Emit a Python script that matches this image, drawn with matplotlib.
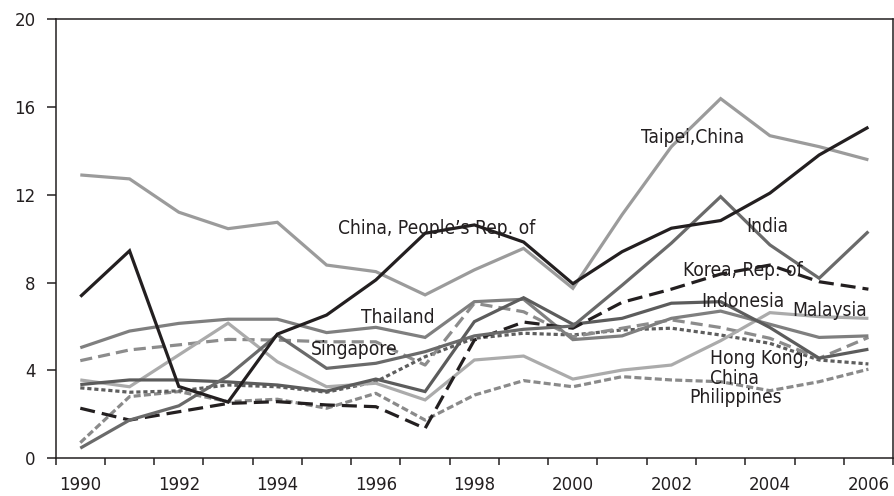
import matplotlib
matplotlib.use("Agg")
import matplotlib.pyplot as plt
from matplotlib import font_manager as fm

years = list(range(1990, 2007))
tick_years = [str(y) for y in range(1990, 2007, 2)]

china = [7.36, 9.45, 3.26, 2.55, 5.65, 6.52, 8.12, 10.25, 10.63, 9.85, 7.95, 9.41, 10.48, 10.83, 12.08, 13.82, 15.09]
taipei = [12.91, 12.73, 11.21, 10.46, 10.75, 8.8, 8.5, 7.44, 8.58, 9.56, 7.74, 11.1, 14.2, 16.39, 14.7, 14.2, 13.6]
india = [0.45, 1.73, 2.38, 3.75, 5.61, 4.09, 4.32, 4.85, 5.57, 5.87, 6.02, 7.88, 9.8, 11.92, 9.72, 8.2, 10.33]
korea = [2.27, 1.73, 2.11, 2.49, 2.57, 2.42, 2.34, 1.35, 5.38, 6.2, 5.92, 7.1, 7.7, 8.39, 8.8, 8.04, 7.7]
indonesia = [3.35, 3.56, 3.56, 3.47, 3.33, 3.05, 3.6, 3.03, 6.22, 7.31, 6.1, 6.37, 7.06, 7.13, 5.95, 4.55, 4.96]
malaysia = [3.56, 3.25, 4.7, 6.15, 4.39, 3.25, 3.41, 2.65, 4.47, 4.65, 3.6, 4.01, 4.24, 5.35, 6.63, 6.45, 6.37]
thailand = [5.03, 5.79, 6.14, 6.33, 6.33, 5.72, 5.96, 5.5, 7.13, 7.24, 5.4, 5.57, 6.37, 6.7, 6.1, 5.5, 5.57]
singapore = [4.44, 4.93, 5.16, 5.41, 5.38, 5.3, 5.3, 4.24, 7.06, 6.67, 5.53, 5.92, 6.3, 5.95, 5.46, 4.55, 5.5]
hongkong = [3.2, 3.0, 3.06, 3.33, 3.25, 3.0, 3.48, 4.62, 5.46, 5.69, 5.61, 5.84, 5.92, 5.61, 5.23, 4.47, 4.29]
philippines = [0.7, 2.8, 3.03, 2.57, 2.68, 2.27, 2.95, 1.73, 2.87, 3.53, 3.25, 3.71, 3.56, 3.48, 3.07, 3.48, 4.05]

# choose a condensed font if one exists
cond_path = None
for f in fm.fontManager.ttflist:
    n = f.fname.lower()
    if "dejavusanscondensed.ttf" in n:
        cond_path = f.fname
        break
if cond_path is None:
    for f in fm.fontManager.ttflist:
        n = f.fname.lower()
        if "narrow" in n and "bold" not in n and "italic" not in n:
            cond_path = f.fname
            break
if cond_path is not None:
    lab_fp = fm.FontProperties(fname=cond_path, size=13.8)
else:
    lab_fp = fm.FontProperties(family="DejaVu Sans", size=12.4)

fig = plt.figure(figsize=(8.95, 4.96), dpi=100)
ax = fig.add_axes([0.0622, 0.0766, 0.9356, 0.8841])

x = list(range(len(years)))
lw = 2.3
series = [
    (philippines, "#8a8a8a", (0, (2.2, 1.0))),
    (hongkong, "#5e5e5e", (0, (1.3, 0.9))),
    (singapore, "#8c8c8c", (0, (3.8, 1.9))),
    (malaysia, "#ababab", "-"),
    (thailand, "#7f7f7f", "-"),
    (indonesia, "#5c5c5c", "-"),
    (korea, "#231f20", (0, (4.7, 2.2))),
    (india, "#6a6a6a", "-"),
    (taipei, "#9b9b9b", "-"),
    (china, "#231f20", "-"),
]
for vals, col, ls in series:
    ax.plot(x, vals, color=col, lw=lw, linestyle=ls, solid_joinstyle="miter",
            dash_capstyle="butt", solid_capstyle="butt")

txtc = "#231f20"
def lab(xx, yy, s, ha="center"):
    ax.text(xx, yy, s, fontproperties=lab_fp, color=txtc, ha=ha, va="center")

lab(12.43, 14.64, "Taipei,China")
lab(13.94, 10.58, "India")
lab(13.46, 8.53, "Korea, Rep. of")
lab(7.24, 10.45, "China, People\u2019s Rep. of")
lab(13.46, 7.12, "Indonesia")
lab(15.22, 6.71, "Malaysia")
lab(6.44, 6.43, "Thailand")
lab(5.56, 4.97, "Singapore")
lab(12.78, 4.52, "Hong Kong,", ha="left")
lab(12.78, 3.62, "China", ha="left")
lab(13.3, 2.76, "Philippines")

ax.set_xlim(-0.5, len(years) - 0.5)
ax.set_ylim(0, 20)
ax.set_yticks([0, 4, 8, 12, 16, 20])
ax.set_xticks([i - 0.5 for i in range(len(years) + 1)])
ax.set_xticklabels([])
ax.set_xticks(list(range(0, len(years), 2)), minor=True)
ax.set_xticklabels(tick_years, minor=True)
ax.tick_params(axis="x", which="major", direction="out", length=5, width=1.1, color="#231f20")
ax.tick_params(axis="x", which="minor", length=0, pad=13, labelsize=12, labelcolor=txtc)
ax.tick_params(axis="y", direction="out", length=6.5, width=1.1, pad=8, labelsize=12,
               color="#231f20", labelcolor=txtc)
for sp in ax.spines.values():
    sp.set_linewidth(1.1)
    sp.set_color("#231f20")

fig.savefig("out.png", dpi=100)
